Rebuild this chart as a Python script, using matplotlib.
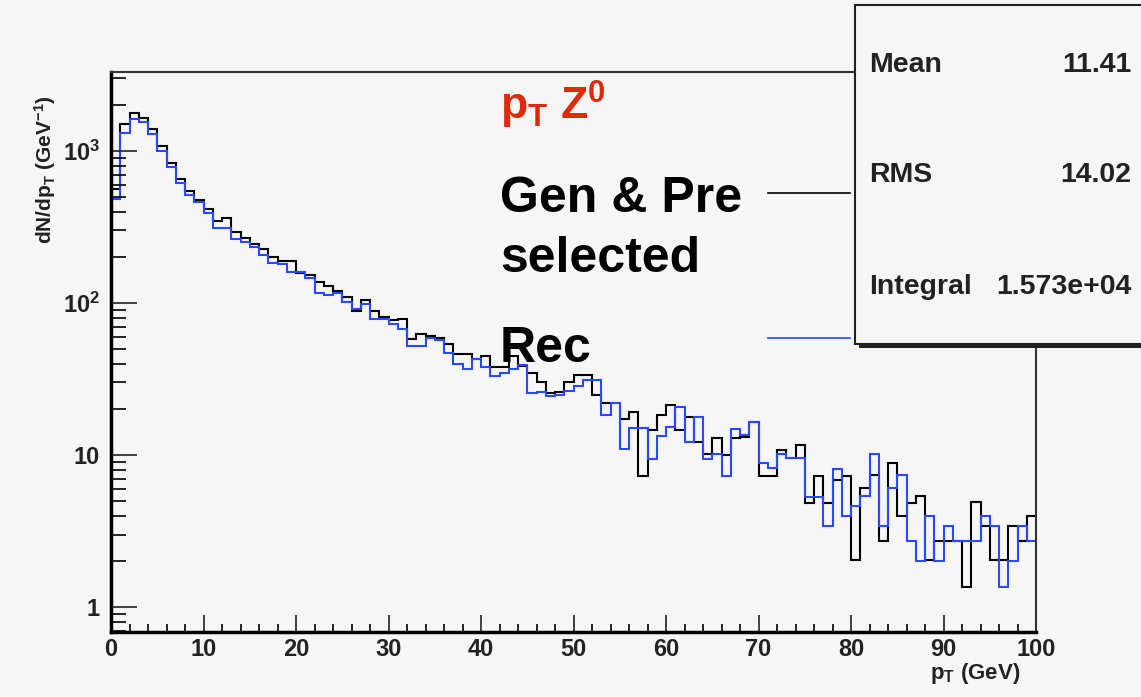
import numpy as np
import matplotlib
matplotlib.use("Agg")
import matplotlib.pyplot as plt
from matplotlib.patches import Rectangle
from matplotlib.lines import Line2D
from matplotlib.ticker import FixedLocator, NullFormatter

# ---------------- data ----------------
bin_edges = np.arange(0, 101, 1)

gen_pre_selected = [
    560, 1500, 1770, 1656, 1389, 1079, 838, 655, 546, 476,
    413, 346, 361, 294, 269, 245, 227, 202, 190, 190,
    157, 154, 138, 129, 120, 109, 88, 104, 88, 81,
    77, 78, 58, 63, 61, 59, 54, 46, 46, 43,
    45, 38, 38, 45, 38.5, 34.8, 30.3, 25.7, 26, 30,
    33.6, 33.6, 25, 22.1, 22, 17.3, 19.3, 7.3, 14.5, 18.3,
    21.3, 14.6, 17.8, 12.1, 10.2, 13, 10, 13, 13.2, 16.4,
    7.3, 7.3, 10.8, 9.6, 11.6, 4.8, 7.3, 4.8, 6.9, 7.3,
    2.05, 6.1, 7.4, 2.7, 8.8, 4.0, 4.8, 5.4, 2.05, 2.7,
    2.7, 2.7, 1.35, 4.9, 3.4, 2.05, 2.05, 3.4, 2.7, 4.0,
]

rec = [
    480, 1307, 1617, 1545, 1294, 1004, 788, 613, 514, 460,
    389, 313, 313, 264, 253, 235, 207, 183, 181, 161,
    160, 145, 117, 113, 117, 102, 91, 99, 78, 79,
    73, 67, 52, 52, 59, 57, 47, 40, 37, 43,
    38, 33, 34.5, 36.6, 39, 25.7, 26, 24.4, 25, 26.5,
    28.4, 31.1, 31, 18.3, 22, 10.9, 15, 15, 9.4, 13.3,
    15.2, 20.6, 12.1, 17.9, 9.4, 10.2, 7.3, 14.8, 13.6, 16.4,
    8.8, 8.2, 10.2, 9.6, 9.6, 5.3, 5.3, 3.4, 8.1, 4.0,
    4.6, 5.4, 10.1, 3.4, 6.1, 7.4, 2.7, 2.0, 4.0, 2.0,
    3.4, 2.7, 2.7, 2.7, 4.0, 3.4, 1.35, 2.0, 3.4, 2.7,
]

x_ticks = [0, 10, 20, 30, 40, 50, 60, 70, 80, 90, 100]
x_tick_labels = ["0", "10", "20", "30", "40", "50", "60", "70", "80", "90", "100"]
y_ticks = [1, 10, 100, 1000]
y_tick_labels = ["1", "10", r"10$^{\mathregular{2}}$", r"10$^{\mathregular{3}}$"]

stats_names = ["Mean", "RMS", "Integral"]
stats_values = ["11.41", "14.02", "1.573e+04"]

# ---------------- style ----------------
W, H = 1141, 697
BG = "#f6f6f6"
BLUE = "#2a48ff"
RED = "#dd2a0a"
FONT = "Liberation Sans"
plt.rcParams["font.family"] = [FONT, "DejaVu Sans"]
plt.rcParams["mathtext.fontset"] = "custom"
plt.rcParams["mathtext.rm"] = FONT + ":bold"
plt.rcParams["mathtext.bf"] = FONT + ":bold"
plt.rcParams["mathtext.it"] = FONT + ":bold"


def fx(x):
    return x / W


def fy(y):
    return 1 - y / H


fig = plt.figure(figsize=(W / 100, H / 100), dpi=100, facecolor=BG)

left, right, top, bottom = 111, 1036, 72, 632
ax = fig.add_axes([fx(left), fy(bottom), (right - left) / W, (bottom - top) / H])
ax.set_facecolor(BG)

ax.stairs(gen_pre_selected, bin_edges, baseline=None, color="black", linewidth=1.5)
ax.stairs(rec, bin_edges, baseline=None, color=BLUE, linewidth=1.5)

ax.set_yscale("log")
ax.set_xlim(0, 100)
ax.set_ylim(0.685, 3310)

ax.xaxis.set_major_locator(FixedLocator(x_ticks))
ax.set_xticklabels(x_tick_labels)
ax.xaxis.set_minor_locator(FixedLocator(np.arange(0, 101, 2)))
ax.yaxis.set_major_locator(FixedLocator(y_ticks))
ax.set_yticklabels(y_tick_labels)
ax.yaxis.set_minor_locator(FixedLocator([m * 10.0 ** d for d in range(-1, 4) for m in range(2, 10)]))
ax.yaxis.set_minor_formatter(NullFormatter())

ax.tick_params(axis="x", which="major", direction="in", length=12, width=1.2, pad=4,
               labelsize=17, colors="#222222")
ax.tick_params(axis="x", which="minor", direction="in", length=6, width=1.2)
ax.tick_params(axis="y", which="major", direction="in", length=19, width=1.2, pad=8,
               labelsize=17, colors="#222222")
ax.tick_params(axis="y", which="minor", direction="in", length=11, width=1.2)
for lab in ax.get_xticklabels() + ax.get_yticklabels():
    lab.set_fontweight("bold")

for s in ["left", "bottom"]:
    ax.spines[s].set_linewidth(2.5)
    ax.spines[s].set_color("black")
for s in ["top", "right"]:
    ax.spines[s].set_linewidth(1.5)
    ax.spines[s].set_color("#333333")

# axis titles
fig.text(fx(45), fy(95), r"dN/dp$_{\mathregular{T}}$ (GeV$^{\mathregular{-1}}$)",
         rotation=90, ha="center", va="top", fontsize=15, fontweight="bold", color="#222222")
fig.text(fx(1020), fy(661), r"p$_{\mathregular{T}}$ (GeV)", ha="right", va="top",
         fontsize=16, fontweight="bold", color="#222222")

# annotations
fig.text(fx(500), fy(120), r"p$_{\mathregular{T}}$ Z$^{\mathregular{0}}$", ha="left", va="baseline",
         fontsize=32, fontweight="bold", color=RED)
fig.text(fx(500), fy(212), "Gen & Pre", ha="left", va="baseline", fontsize=36,
         fontweight="bold", color="black")
fig.text(fx(500), fy(272), "selected", ha="left", va="baseline", fontsize=36,
         fontweight="bold", color="black")
fig.text(fx(500), fy(362), "Rec", ha="left", va="baseline", fontsize=36,
         fontweight="bold", color="black")

fig.add_artist(Line2D([fx(768), fx(850)], [fy(193), fy(193)], transform=fig.transFigure,
                      color="black", linewidth=1.2))
fig.add_artist(Line2D([fx(768), fx(850)], [fy(338), fy(338)], transform=fig.transFigure,
                      color=BLUE, linewidth=1.2))

# stats box with shadow
fig.add_artist(Rectangle((fx(859), fy(348)), fx(300), (348 - 9) / H, transform=fig.transFigure,
                         facecolor="#222222", edgecolor="none", zorder=5))
fig.add_artist(Rectangle((fx(855), fy(344)), fx(300), (344 - 5) / H, transform=fig.transFigure,
                         facecolor=BG, edgecolor="#222222", linewidth=1.5, zorder=6))
for name, val, y in zip(stats_names, stats_values, [65, 175, 287]):
    fig.text(fx(869), fy(y), name, ha="left", va="center", fontsize=20.5,
             fontweight="bold", color="#222222", zorder=7)
    fig.text(fx(1131), fy(y), val, ha="right", va="center", fontsize=20.5,
             fontweight="bold", color="#222222", zorder=7)

fig.savefig("out.png", dpi=100, facecolor=BG)
